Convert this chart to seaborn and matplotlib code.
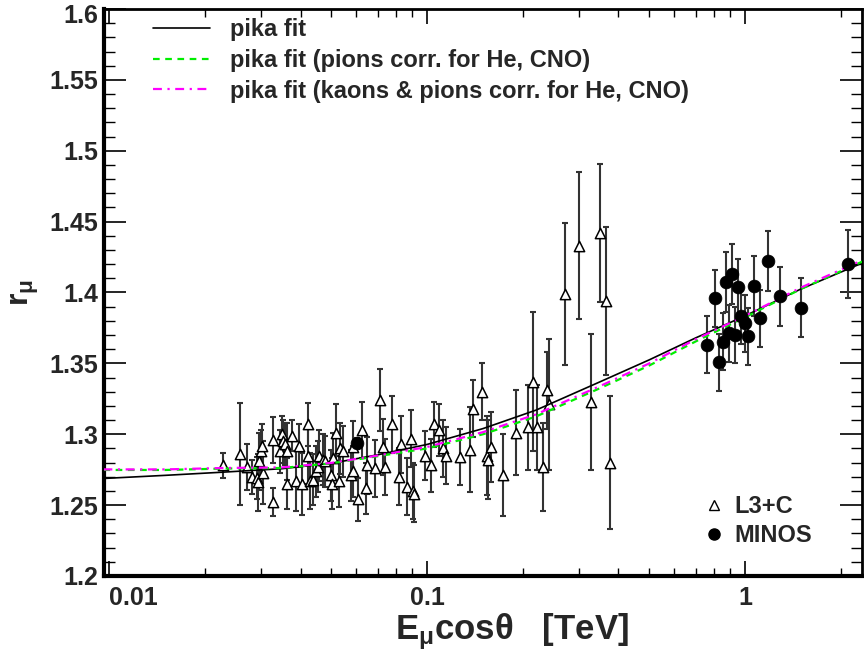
import numpy as np
import pandas as pd
import matplotlib
matplotlib.use("Agg")
import matplotlib.pyplot as plt
from matplotlib.lines import Line2D
from matplotlib.ticker import MultipleLocator, LogLocator, NullFormatter
from matplotlib.transforms import ScaledTranslation
import seaborn as sns

# L3+C points (E cos theta in TeV, r_mu, error)
l3c_x = [0.0229, 0.0258, 0.0271, 0.0281, 0.0291, 0.0294, 0.0297, 0.0300, 0.0302, 0.0304,
         0.0327, 0.0327, 0.0345, 0.0349, 0.0353, 0.0358, 0.0362, 0.0364, 0.0376, 0.0387,
         0.0397, 0.0404, 0.0422, 0.0422, 0.0429, 0.0439, 0.0448, 0.0455, 0.0458, 0.0470,
         0.0478, 0.0498, 0.0502, 0.0507, 0.0517, 0.0530, 0.0533, 0.0546, 0.0577, 0.0584,
         0.0587, 0.0605, 0.0623, 0.0643, 0.0646, 0.0686, 0.0712, 0.0726, 0.0738, 0.0774,
         0.0817, 0.0827, 0.0863, 0.0888, 0.0902, 0.0910, 0.0986, 0.1027, 0.1052, 0.1093,
         0.1125, 0.1147, 0.1270, 0.1365, 0.1390, 0.1489, 0.1541, 0.1559, 0.1590, 0.1730,
         0.1909, 0.2083, 0.2150, 0.2223, 0.2311, 0.2389, 0.2424, 0.2716, 0.2999, 0.3271,
         0.3500, 0.3647, 0.3762]
l3c_y = [1.278, 1.286, 1.277, 1.270, 1.269, 1.266, 1.281, 1.288, 1.292, 1.273,
         1.296, 1.252, 1.288, 1.300, 1.295, 1.293, 1.288, 1.265, 1.299, 1.267,
         1.292, 1.265, 1.307, 1.285, 1.267, 1.268, 1.274, 1.277, 1.285, 1.282,
         1.281, 1.271, 1.265, 1.283, 1.301, 1.267, 1.290, 1.288, 1.271, 1.274,
         1.291, 1.254, 1.303, 1.262, 1.278, 1.276, 1.324, 1.291, 1.277, 1.307,
         1.270, 1.293, 1.263, 1.297, 1.260, 1.258, 1.285, 1.278, 1.307, 1.303,
         1.290, 1.285, 1.284, 1.289, 1.318, 1.330, 1.285, 1.282, 1.291, 1.271,
         1.301, 1.305, 1.337, 1.305, 1.277, 1.331, 1.321, 1.399, 1.433, 1.323,
         1.442, 1.394, 1.280]
l3c_err = [0.009, 0.036, 0.016, 0.012, 0.015, 0.020, 0.020, 0.015, 0.015, 0.022,
           0.016, 0.010, 0.015, 0.013, 0.015, 0.015, 0.020, 0.018, 0.011, 0.021,
           0.015, 0.022, 0.015, 0.020, 0.020, 0.018, 0.018, 0.018, 0.018, 0.018,
           0.018, 0.018, 0.018, 0.018, 0.020, 0.018, 0.018, 0.018, 0.018, 0.018,
           0.018, 0.015, 0.020, 0.018, 0.020, 0.020, 0.022, 0.020, 0.020, 0.020,
           0.020, 0.020, 0.020, 0.020, 0.020, 0.020, 0.017, 0.019, 0.016, 0.018,
           0.020, 0.020, 0.020, 0.030, 0.020, 0.020, 0.028, 0.028, 0.025, 0.029,
           0.030, 0.030, 0.049, 0.030, 0.031, 0.027, 0.046, 0.050, 0.052, 0.048,
           0.049, 0.052, 0.047]

# MINOS points
minos_x = [0.0601, 0.7612, 0.8051, 0.8302, 0.8509, 0.8714, 0.8887, 0.9082, 0.9302, 0.9485,
           0.9714, 1.0000, 1.0242, 1.0652, 1.1147, 1.1838, 1.2885, 1.4966, 2.1127]
minos_y = [1.2935, 1.3633, 1.3960, 1.3507, 1.3654, 1.4073, 1.3712, 1.4132, 1.3701, 1.4037,
           1.3837, 1.3783, 1.3691, 1.4047, 1.3818, 1.4224, 1.3972, 1.3894, 1.4203]
minos_err = [0.004, 0.020, 0.020, 0.020, 0.020, 0.021, 0.020, 0.021, 0.020, 0.020,
             0.020, 0.020, 0.020, 0.021, 0.020, 0.021, 0.021, 0.021, 0.024]

# fit curves
fit_x = [0.0096, 0.015, 0.023, 0.035, 0.05, 0.07, 0.1, 0.15, 0.22, 0.35, 0.5, 0.7, 1.0, 1.5, 2.35]
fit_pika = [1.2688, 1.2710, 1.2733, 1.2757, 1.2795, 1.2855, 1.2928, 1.3040, 1.3170, 1.3370,
            1.3525, 1.3680, 1.3835, 1.4025, 1.4210]
fit_pions = [1.2748, 1.2748, 1.2758, 1.2762, 1.2795, 1.2845, 1.2900, 1.3000, 1.3125, 1.3325,
             1.3485, 1.3655, 1.3825, 1.4025, 1.4220]
fit_kaons = [1.2752, 1.2752, 1.2762, 1.2766, 1.2798, 1.2850, 1.2910, 1.3015, 1.3140, 1.3340,
             1.3500, 1.3670, 1.3835, 1.4035, 1.4230]

fit_labels = ["pika fit", "pika fit (pions corr. for He, CNO)",
              "pika fit (kaons & pions corr. for He, CNO)"]
x_ticks = [0.01, 0.1, 1]
x_ticklabels = ["0.01", "0.1", "1"]

sns.set_theme(style="ticks")
plt.rcParams["font.family"] = ["Liberation Sans", "DejaVu Sans"]
plt.rcParams["font.weight"] = "bold"
plt.rcParams["mathtext.fontset"] = "custom"
plt.rcParams["mathtext.rm"] = "Liberation Sans:bold"
plt.rcParams["mathtext.it"] = "Liberation Sans:bold"
plt.rcParams["mathtext.bf"] = "Liberation Sans:bold"

fig = plt.figure(figsize=(8.64, 6.51), dpi=100)
ax = fig.add_axes([104 / 864, 75 / 651, 758 / 864, 567 / 651])

# curves
sns.lineplot(x=fit_x, y=fit_pika, color="black", lw=1.2, ax=ax, zorder=4)
sns.lineplot(x=fit_x, y=fit_pions, color="#00ee00", lw=1.6, linestyle=(0, (3, 2.5)), ax=ax, zorder=4)
sns.lineplot(x=fit_x, y=fit_kaons, color="#ff00ff", lw=1.6, linestyle=(0, (4, 2.5, 1, 2.5)), ax=ax, zorder=4)

# data with error bars
ax.errorbar(l3c_x, l3c_y, yerr=l3c_err, fmt="none", ecolor="#333333", elinewidth=1.5,
            capsize=2.5, capthick=1.5, zorder=2)
ax.errorbar(minos_x, minos_y, yerr=minos_err, fmt="none", ecolor="#333333", elinewidth=1.5,
            capsize=2.5, capthick=1.5, zorder=2)
sns.scatterplot(x=l3c_x, y=l3c_y, marker="^", s=55, facecolor="white", edgecolor="black",
                linewidth=1.1, ax=ax, zorder=3)
sns.scatterplot(x=minos_x, y=minos_y, marker="o", s=85, color="black", edgecolor="black",
                linewidth=0.5, ax=ax, zorder=5)

ax.set_xscale("log")
ax.set_xlim(0.00964, 2.333)
ax.set_ylim(1.2, 1.6)

ax.set_xticks(x_ticks)
ax.set_xticklabels(x_ticklabels)
ax.xaxis.set_minor_locator(LogLocator(base=10, subs=np.arange(2, 10)))
ax.xaxis.set_minor_formatter(NullFormatter())
ax.xaxis.get_majorticklabels()[0].set_horizontalalignment("left")

ax.yaxis.set_major_locator(MultipleLocator(0.05))
ax.yaxis.set_minor_locator(MultipleLocator(0.01))
ax.yaxis.set_major_formatter(plt.FuncFormatter(lambda v, p: "%g" % round(v, 2)))

ax.tick_params(axis="both", which="both", direction="in", top=True, right=True,
               color="black", labelsize=18)
ax.tick_params(axis="x", which="major", length=11, width=1.2, pad=7)
ax.tick_params(axis="x", which="minor", length=6, width=1.0)
ax.tick_params(axis="y", which="major", length=16, width=1.2, pad=4)
ax.tick_params(axis="y", which="minor", length=8, width=1.0)

# keep the top label "1.6" inside the figure
fig.canvas.draw()
top_lab = [t for t in ax.get_yticklabels() if t.get_text() == "1.6"]
for t in top_lab:
    t.set_transform(t.get_transform() + ScaledTranslation(0, -3 / 72, fig.dpi_scale_trans))

for side in ["bottom", "left"]:
    ax.spines[side].set_linewidth(3)
for side in ["top", "right"]:
    ax.spines[side].set_linewidth(2)
for s in ax.spines.values():
    s.set_color("black")

ax.set_xlabel(r"E$_{\mu}$cos$\theta$   [TeV]", fontsize=25, fontweight="bold", labelpad=0)
ax.xaxis.set_label_coords(0.538, -0.062)
ax.set_ylabel(r"r$_{\mu}$", fontsize=23, fontweight="bold", labelpad=6)

# legends
fit_handles = [
    Line2D([], [], color="black", lw=1.2),
    Line2D([], [], color="#00ee00", lw=1.6, linestyle=(0, (3, 2.5))),
    Line2D([], [], color="#ff00ff", lw=1.6, linestyle=(0, (4, 2.5, 1, 2.5))),
]
leg1 = ax.legend(fit_handles, fit_labels, loc="upper left", bbox_to_anchor=(144 / 864, 1 - 9 / 651),
                 bbox_transform=fig.transFigure, frameon=False, fontsize=17, handlelength=2.4,
                 handletextpad=0.85, labelspacing=0.32, borderaxespad=0)
ax.add_artist(leg1)

data_handles = [
    Line2D([], [], marker="^", color="black", markerfacecolor="white", linestyle="none", markersize=7),
    Line2D([], [], marker="o", color="black", linestyle="none", markersize=8),
]
ax.legend(data_handles, ["L3+C", "MINOS"], loc="upper left", bbox_to_anchor=(693 / 864, 1 - 486 / 651),
          bbox_transform=fig.transFigure, frameon=False, fontsize=17, handlelength=1.0,
          handletextpad=0.35, labelspacing=0.25, borderaxespad=0)

fig.savefig("out.png", dpi=100)
